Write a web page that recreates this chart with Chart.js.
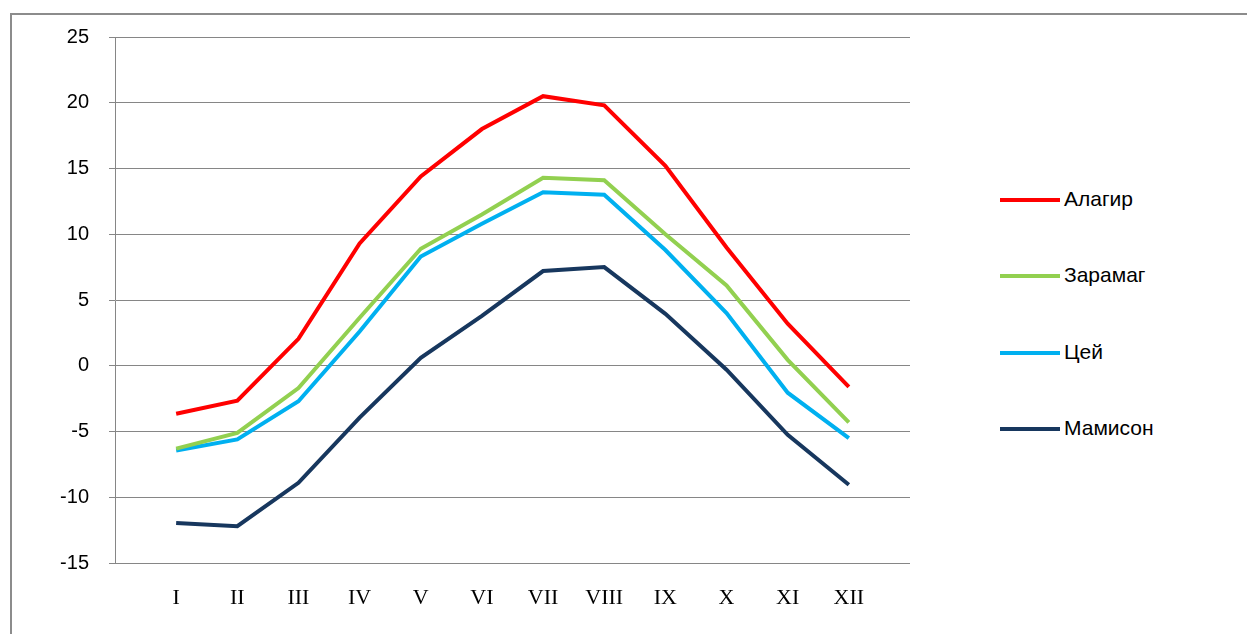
<!DOCTYPE html>
<html><head><meta charset="utf-8">
<script src="https://cdn.jsdelivr.net/npm/chart.js@4"></script>
<style>
body{margin:0;background:#fff;width:1247px;height:634px;overflow:hidden;position:relative;font-family:"Liberation Sans",Arial,sans-serif}
#frame{position:absolute;left:10px;top:13px;width:1240px;height:630px;border:2px solid #8c8c8c;box-sizing:border-box}
#wrap{position:absolute;left:0;top:0;width:940px;height:634px}
.lg{position:absolute;left:1000px;font-size:21px;color:#000;line-height:24px}
.lg span{display:inline-block;width:60px;height:4px;vertical-align:middle;margin-right:4px}
</style></head><body>
<div id="frame"></div>
<div id="wrap"><canvas id="c"></canvas></div>
<div class="lg" style="top:187px"><span style="background:#ff0000"></span>Алагир</div>
<div class="lg" style="top:263px"><span style="background:#92d050"></span>Зарамаг</div>
<div class="lg" style="top:340px"><span style="background:#00b0f0"></span>Цей</div>
<div class="lg" style="top:416px"><span style="background:#17375e"></span>Мамисон</div>
<script>
const months  = ['I','II','III','IV','V','VI','VII','VIII','IX','X','XI','XII'];
const alagir  = [-3.65,-2.66,2.05,9.3,14.4,18.0,20.5,19.8,15.2,9.0,3.2,-1.6];
const zaramag = [-6.3,-5.1,-1.7,3.65,8.9,11.5,14.3,14.1,10.0,6.1,0.45,-4.3];
const tsey    = [-6.45,-5.6,-2.7,2.6,8.3,10.8,13.2,13.0,8.8,4.0,-2.05,-5.5];
const mamison = [-11.95,-12.2,-8.9,-3.95,0.6,3.8,7.2,7.5,3.95,-0.3,-5.25,-9.05];

const pts = arr => arr.map((v, i) => ({ x: i, y: v }));
const ds = (label, data, color) => ({ label, data: pts(data), borderColor: color,
  borderWidth: 4, pointRadius: 0, tension: 0, fill: false });

new Chart(document.getElementById('c'), {
  type: 'line',
  data: { datasets: [
    ds('Алагир', alagir, '#ff0000'),
    ds('Зарамаг', zaramag, '#92d050'),
    ds('Цей', tsey, '#00b0f0'),
    ds('Мамисон', mamison, '#17375e'),
  ] },
  options: {
    responsive: true, maintainAspectRatio: false, animation: false,
    layout: { padding: { top: 37, right: 30 } },
    plugins: { legend: { display: false }, tooltip: { enabled: false } },
    scales: {
      x: { type: 'linear', min: -1, max: 12,
        afterBuildTicks: s => { s.ticks = months.map((_, i) => ({ value: i })); },
        afterFit: s => { s.height = 71; },
        grid: { display: false },
        border: { display: false },
        ticks: { color: '#000', padding: 14, font: { family: 'Liberation Serif', size: 22 },
          callback: v => months[v] ?? '' } },
      y: { min: -15, max: 25,
        afterFit: s => { s.width = 115; },
        ticks: { stepSize: 5, color: '#000', padding: 20, font: { family: 'Liberation Sans', size: 20 } },
        grid: { color: '#868686', lineWidth: 1, drawTicks: true, tickLength: 6 },
        border: { color: '#868686' } },
    },
  },
});
</script>
</body></html>
